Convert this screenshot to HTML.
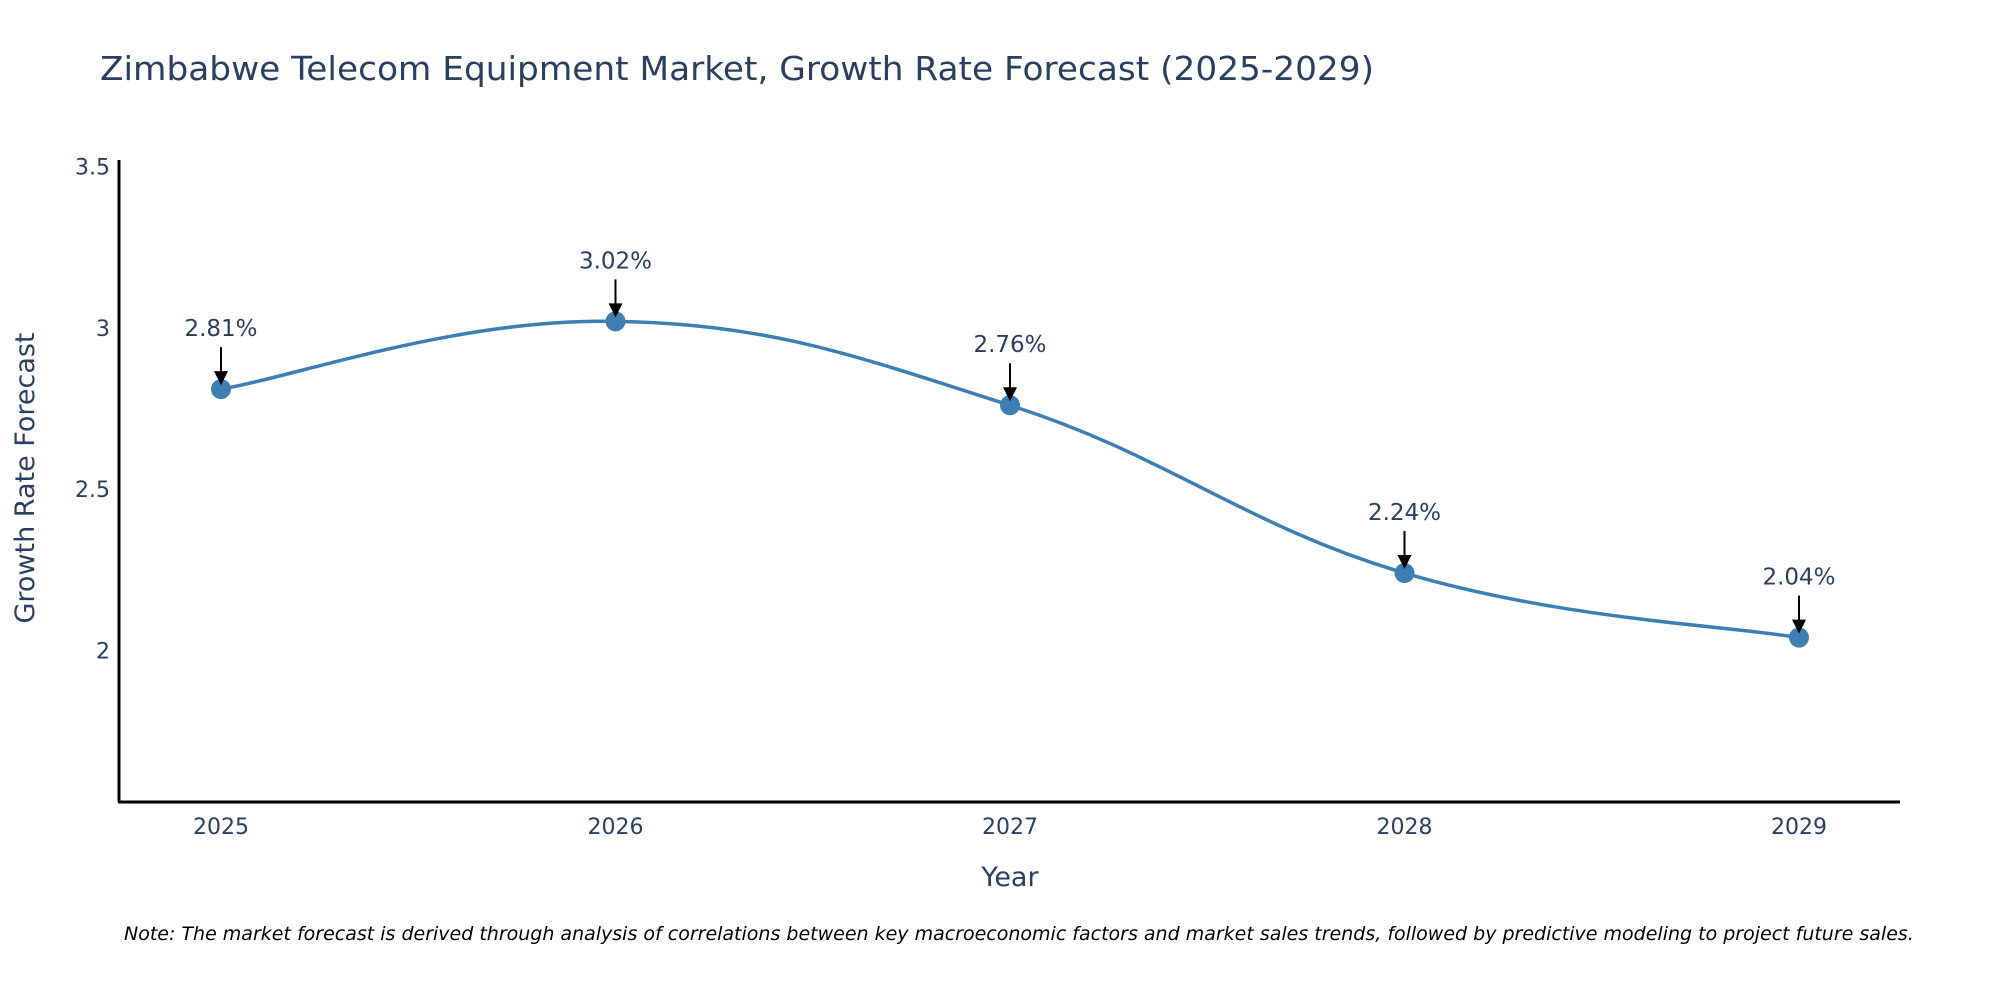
<!DOCTYPE html>
<html><head><meta charset="utf-8"><style>
body{margin:0;background:#fff;}
svg{display:block;font-family:"DejaVu Sans","Liberation Sans",sans-serif;}
</style></head><body>
<svg id="chart" width="2000" height="1000" viewBox="0 0 2000 1000">
<text x="100" y="80" font-size="33" fill="#2a3f5f" textLength="1274" lengthAdjust="spacingAndGlyphs">Zimbabwe Telecom Equipment Market, Growth Rate Forecast (2025-2029)</text>
<g id="yticks"></g>
<g id="xticks"></g>
<line x1="119" y1="160" x2="119" y2="802" stroke="#000" stroke-width="3"/>
<line x1="118" y1="802" x2="1900" y2="802" stroke="#000" stroke-width="3"/>
<text transform="translate(34,478) rotate(-90)" text-anchor="middle" font-size="27" fill="#2a3f5f">Growth Rate Forecast</text>
<text x="1010" y="886" text-anchor="middle" font-size="27" fill="#2a3f5f">Year</text>
<g id="series"></g>
<text x="124" y="940" font-size="19" font-style="italic" fill="#000">Note: The market forecast is derived through analysis of correlations between key macroeconomic factors and market sales trends, followed by predictive modeling to project future sales.</text>
</svg>
<script>
const years = [2025, 2026, 2027, 2028, 2029];
const growth = [2.81, 3.02, 2.76, 2.24, 2.04];
const yTickValues = [2, 2.5, 3, 3.5];
const yTickLabels = ["2", "2.5", "3", "3.5"];

const NS = "http://www.w3.org/2000/svg";
const x0 = 221, dx = 394.5;
function xs(yr){ return x0 + (yr - years[0]) * dx; }
function ys(v){ return 650.5 - (v - 2) * 322.7; }
function mk(tag, attrs){ const e = document.createElementNS(NS, tag); for (const k in attrs) e.setAttribute(k, attrs[k]); return e; }

const yt = document.getElementById('yticks');
yTickValues.forEach((v, i) => {
  const t = mk('text', {x: 110, y: ys(v) + 8, 'text-anchor': 'end', 'font-size': 22, fill: '#2a3f5f'});
  
  
  t.textContent = yTickLabels[i];
  yt.appendChild(t);
});
const xt = document.getElementById('xticks');
years.forEach(yr => {
  const t = mk('text', {x: xs(yr), y: 834, 'text-anchor': 'middle', 'font-size': 22, fill: '#2a3f5f'});
  
  
  t.textContent = String(yr);
  xt.appendChild(t);
});

const g = document.getElementById('series');
const pts = years.map((yr, i) => [xs(yr), ys(growth[i])]);
let d = `M${pts[0][0]},${pts[0][1]}`;
const k = 0.2;
for (let i = 0; i < pts.length - 1; i++) {
  const p0 = pts[Math.max(i - 1, 0)], p1 = pts[i], p2 = pts[i + 1], p3 = pts[Math.min(i + 2, pts.length - 1)];
  const c1 = [p1[0] + (p2[0] - p0[0]) * k, p1[1] + (p2[1] - p0[1]) * k];
  const c2 = [p2[0] - (p3[0] - p1[0]) * k, p2[1] - (p3[1] - p1[1]) * k];
  d += ` C${c1[0]},${c1[1]} ${c2[0]},${c2[1]} ${p2[0]},${p2[1]}`;
}
const line = mk('path', {d: d, fill: 'none', stroke: '#3d7eb3', 'stroke-width': 3.5});


g.appendChild(line);

pts.forEach((p, i) => {
  const c = mk('circle', {cx: p[0], cy: p[1], r: 10, fill: '#3d7eb3'});
  
  
  g.appendChild(c);
  const a = mk('line', {x1: p[0], y1: p[1] - 42, x2: p[0], y2: p[1] - 14, stroke: '#000', 'stroke-width': 2});
  
  
  g.appendChild(a);
  const h = mk('polygon', {points: `${p[0]-7},${p[1]-18} ${p[0]+7},${p[1]-18} ${p[0]},${p[1]-4}`, fill: '#000'});
  
  
  g.appendChild(h);
  const t = mk('text', {x: p[0], y: p[1] - 53, 'text-anchor': 'middle', 'font-size': 23, fill: '#2a3f5f'});
  
  
  t.textContent = growth[i].toFixed(2) + '%';
  g.appendChild(t);
});
</script>
</body></html>
